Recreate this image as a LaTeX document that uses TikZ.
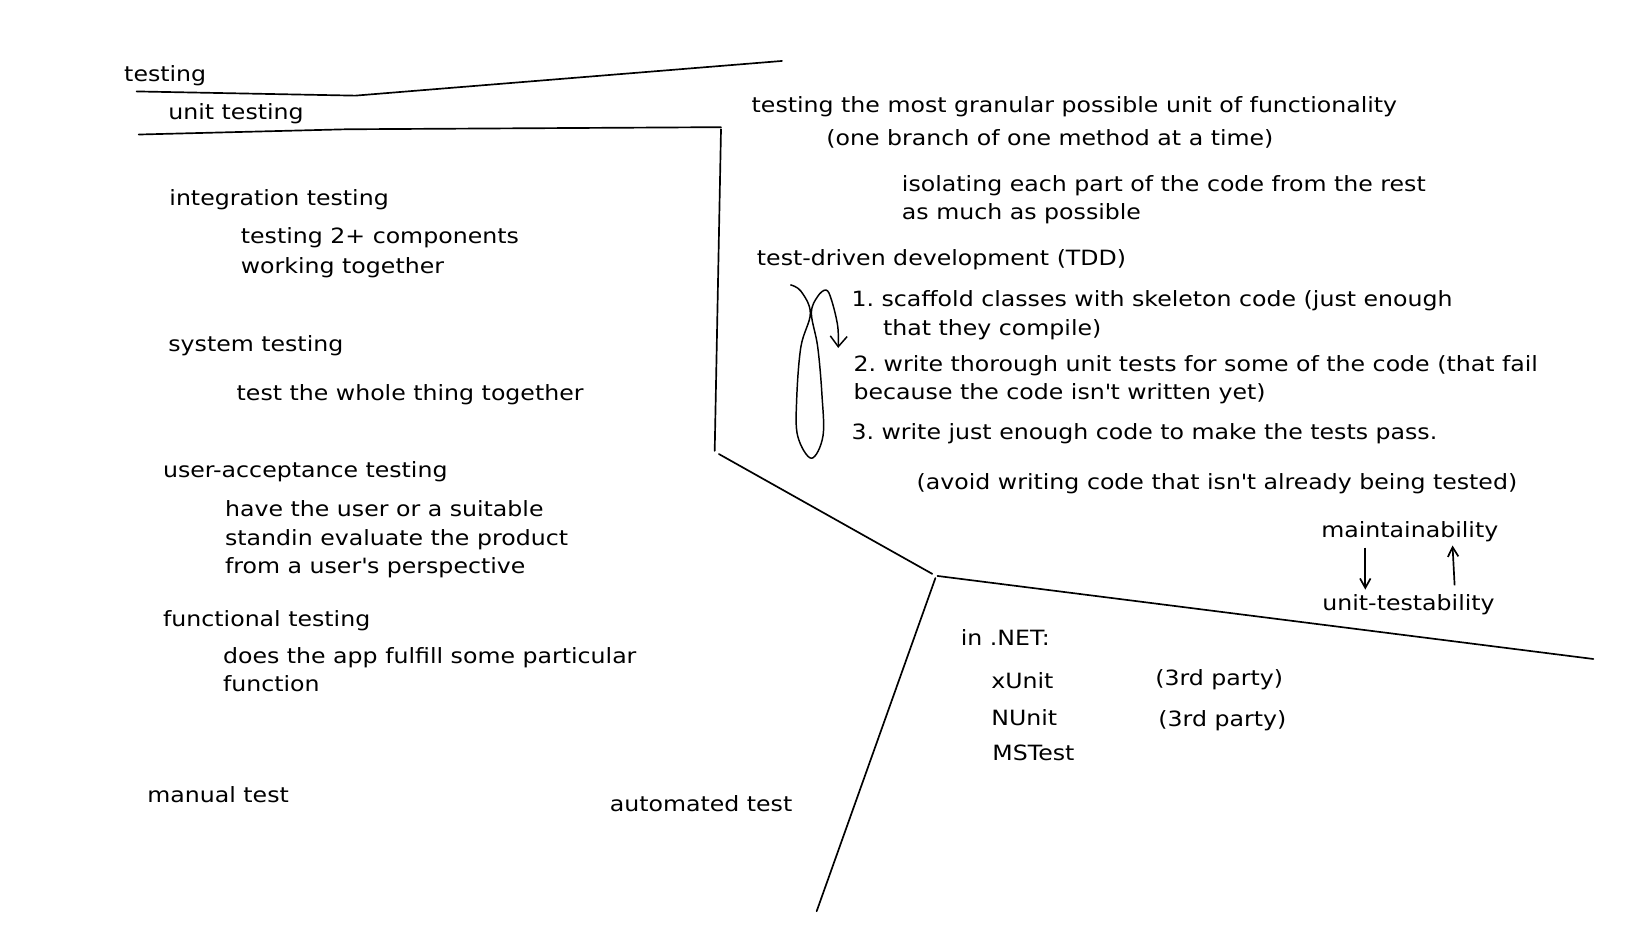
\documentclass[tikz,border=0pt]{standalone}
\usepackage{fontspec}
\setmainfont[FakeStretch=1.125]{DejaVu Sans}
\usetikzlibrary{arrows.meta}
\begin{document}
\frenchspacing
\begin{tikzpicture}[x=1pt,y=-1pt,
  txt/.style={anchor=base west,inner sep=0pt,font=\fontsize{20}{24}\selectfont},
  stroke/.style={line width=1.6pt,line cap=round,line join=round},
  arr/.style={line width=1.6pt,-{Straight Barb[length=9pt,width=10pt]}}]
\useasboundingbox (0,0) rectangle (1568,882);
% texts (base y = center y + 8)
\node[txt] (t1) at (118,78) {testing};
\node[txt] (t2) at (160,114) {unit testing};
\node[txt] (u1) at (715,107) {testing the most granular possible unit of functionality};
\node[txt] (u2) at (786,138) {(one branch of one method at a time)};
\node[txt] (u3) at (858,182) {isolating each part of the code from the rest};
\node[txt] (u4) at (858,209) {as much as possible};
\node[txt] (tdd) at (720,253) {test-driven development (TDD)};
\node[txt] (s1a) at (810,292) {1. scaffold classes with skeleton code (just enough};
\node[txt] (s1b) at (840,319) {that they compile)};
\node[txt] (s2a) at (812,353) {2. write thorough unit tests for some of the code (that fail};
\node[txt] (s2b) at (812,380) {because the code isn\textquotesingle t written yet)};
\node[txt] (s3) at (810,418) {3. write just enough code to make the tests pass.};
\node[txt] (av) at (872,466) {(avoid writing code that isn\textquotesingle t already being tested)};
\node[txt] (mt) at (1257,511) {maintainability};
\node[txt] (ut) at (1258,581) {unit-testability};
\node[txt] (net) at (914,614) {in .NET:};
\node[txt] (xu) at (943,655) {xUnit};
\node[txt] (xp) at (1099,652) {(3rd party)};
\node[txt] (nu) at (943,690) {NUnit};
\node[txt] (np) at (1102,691) {(3rd party)};
\node[txt] (ms) at (944,724) {MSTest};
\node[txt] (it) at (161,196) {integration testing};
\node[txt] (it1) at (229,232) {testing 2+ components};
\node[txt] (it2) at (229,260) {working together};
\node[txt] (st) at (160,334) {system testing};
\node[txt] (st1) at (225,381) {test the whole thing together};
\node[txt] (ua) at (155,454) {user-acceptance testing};
\node[txt] (ua1) at (214,491) {have the user or a suitable};
\node[txt] (ua2) at (214,519) {standin evaluate the product};
\node[txt] (ua3) at (214,546) {from a user\textquotesingle s perspective};
\node[txt] (ft) at (155,596) {functional testing};
\node[txt] (ft1) at (212,631) {does the app fulfill some particular};
\node[txt] (ft2) at (212,658) {function};
\node[txt] (man) at (140,764) {manual test};
\node[txt] (aut) at (580,772) {automated test};
% lines
\draw[stroke] (130,87) -- (338,91) -- (744,58);
\draw[stroke] (132,128) -- (330,123) -- (686,121);
\draw[stroke] (686,123) -- (680,429);
\draw[stroke] (684,432) -- (887,546);
\draw[stroke] (892,548) -- (1516,627);
\draw[stroke] (890,550) -- (777,867);
% arrows
\coordinate (ma) at (1299,521);
\coordinate (mb) at (1299,561);
\coordinate (ua0) at (1384,557);
\coordinate (ub) at (1382,519);
\draw[arr] (ma) -- (mb);
\draw[arr] (ua0) -- (ub);
% loop
\draw[line width=1.4pt,line join=round,-{Straight Barb[length=10pt,width=16pt]}]
  plot[smooth,tension=0.6] coordinates {(752,271) (762,277) (771,298) (762,330) (758,380) (759,415) (772,436) (783,415) (782,375) (778,330) (772,298) (778,282) (786,276) (791,285) (797,310) (797.5,331)};
\end{tikzpicture}
\end{document}
